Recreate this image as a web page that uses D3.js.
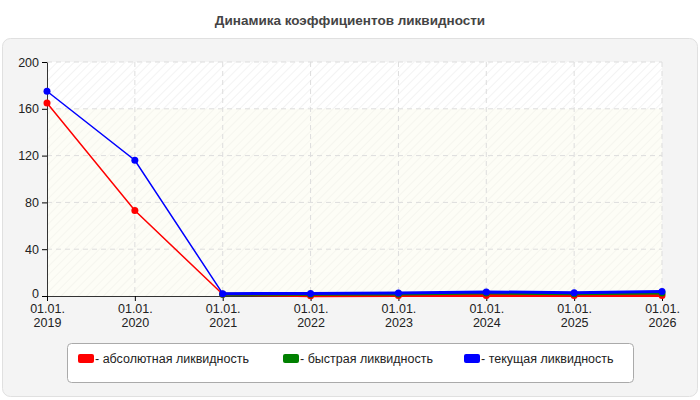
<!DOCTYPE html><html><head><meta charset="utf-8"><script src="https://cdn.jsdelivr.net/npm/d3@7"></script>
<style>body{margin:0;background:#fff;font-family:Arial,"Liberation Sans",sans-serif}</style></head><body><svg id="c" width="700" height="400"></svg>
<script>
const categories=["01.01.\n2019","01.01.\n2020","01.01.\n2021","01.01.\n2022","01.01.\n2023","01.01.\n2024","01.01.\n2025","01.01.\n2026"];
const absLiq=[165,73,1.5,0.3,0.4,0.5,0.4,0.5];
const quickLiq=[null,null,1.5,1.5,1.7,2.5,2,2.5];
const curLiq=[175,116,2,2.2,2.5,3.5,2.8,3.8];
const yTicks=[0,40,80,120,160,200];
const seriesNames=["- абсолютная ликвидность","- быстрая ликвидность","- текущая ликвидность"];
const colors=["#ff0000","#008000","#0000ff"];
const svg=d3.select("#c");
svg.append("text").attr("x",350).attr("y",25).attr("text-anchor","middle").attr("font-size",13.5).attr("font-weight","bold").attr("fill","#444").text("Динамика коэффициентов ликвидности");
svg.append("rect").attr("x",2.5).attr("y",38.5).attr("width",695).attr("height",358).attr("rx",8).attr("fill","#f4f4f4").attr("stroke","#e0e0e0");
const defs=svg.append("defs");
const p=defs.append("pattern").attr("id","h").attr("width",6).attr("height",6).attr("patternUnits","userSpaceOnUse").attr("patternTransform","rotate(45)");
p.append("rect").attr("width",6).attr("height",6).attr("fill","#fff");
p.append("line").attr("x1",0).attr("y1",0).attr("x2",0).attr("y2",6).attr("stroke","#f0f0f0").attr("stroke-width",1.5);
const x=d3.scalePoint().domain(d3.range(categories.length)).range([47,662]);
const y=d3.scaleLinear().domain([0,200]).range([296,62]);
svg.append("rect").attr("x",47).attr("y",62).attr("width",615).attr("height",234).attr("fill","url(#h)");
svg.append("rect").attr("x",47).attr("y",y(160)).attr("width",615).attr("height",y(0)-y(160)).attr("fill","#fbfbe8").attr("opacity",0.4);
const g=svg.append("g");
yTicks.forEach(t=>{if(t>0)g.append("line").attr("x1",47).attr("x2",662).attr("y1",y(t)).attr("y2",y(t)).attr("stroke","#ddd").attr("stroke-dasharray","5,4");});
d3.range(1,categories.length).forEach(i=>g.append("line").attr("x1",x(i)).attr("x2",x(i)).attr("y1",62).attr("y2",296).attr("stroke","#ddd").attr("stroke-dasharray","5,4"));
const ya=svg.append("g").attr("transform","translate(47,0)").call(d3.axisLeft(y).tickValues(yTicks).tickSize(5).tickSizeOuter(0));
ya.select(".domain").attr("stroke","#333");ya.selectAll("text").attr("font-size",12.5).attr("fill","#222").attr("font-family","Arial,Liberation Sans");
ya.selectAll(".tick").filter(d=>d===0).select("text").attr("dy","0.1em");
const xa=svg.append("g").attr("transform","translate(0,296)").call(d3.axisBottom(x).tickSize(5).tickSizeOuter(0).tickFormat(""));
xa.select(".domain").attr("stroke","#333");
xa.selectAll(".tick").each(function(d){const t=d3.select(this).append("text").attr("fill","#222").attr("font-size",12.5).attr("text-anchor","middle").attr("font-family","Arial,Liberation Sans");
categories[d].split("\n").forEach((s,k)=>t.append("tspan").attr("x",0).attr("y",17+k*14).text(s));});
[absLiq,quickLiq,curLiq].forEach((data,si)=>{
 const pts=data.map((v,i)=>[i,v]).filter(d=>d[1]!=null);
 svg.append("path").attr("d",d3.line().x(d=>x(d[0])).y(d=>y(d[1]))(pts.filter(d=>d[0]<=2))).attr("fill","none").attr("stroke",colors[si]).attr("stroke-width",1.5);
 svg.append("path").attr("d",d3.line().x(d=>x(d[0])).y(d=>y(d[1]))(pts.filter(d=>d[0]>=2))).attr("fill","none").attr("stroke",colors[si]).attr("stroke-width",3);
 svg.selectAll(null).data(pts).enter().append("circle").attr("cx",d=>x(d[0])).attr("cy",d=>y(d[1])).attr("r",3.5).attr("fill",colors[si]);
});
svg.append("rect").attr("x",67.5).attr("y",343.5).attr("width",566).attr("height",39).attr("rx",4).attr("fill","#fff").attr("stroke","#aaa");
const lx=[78,283,464];
seriesNames.forEach((n,i)=>{svg.append("rect").attr("x",lx[i]).attr("y",354).attr("width",16).attr("height",9).attr("rx",2).attr("fill",colors[i]);
svg.append("text").attr("x",lx[i]+17).attr("y",363).attr("font-size",12.5).attr("fill","#222").text(n);});
</script></body></html>
